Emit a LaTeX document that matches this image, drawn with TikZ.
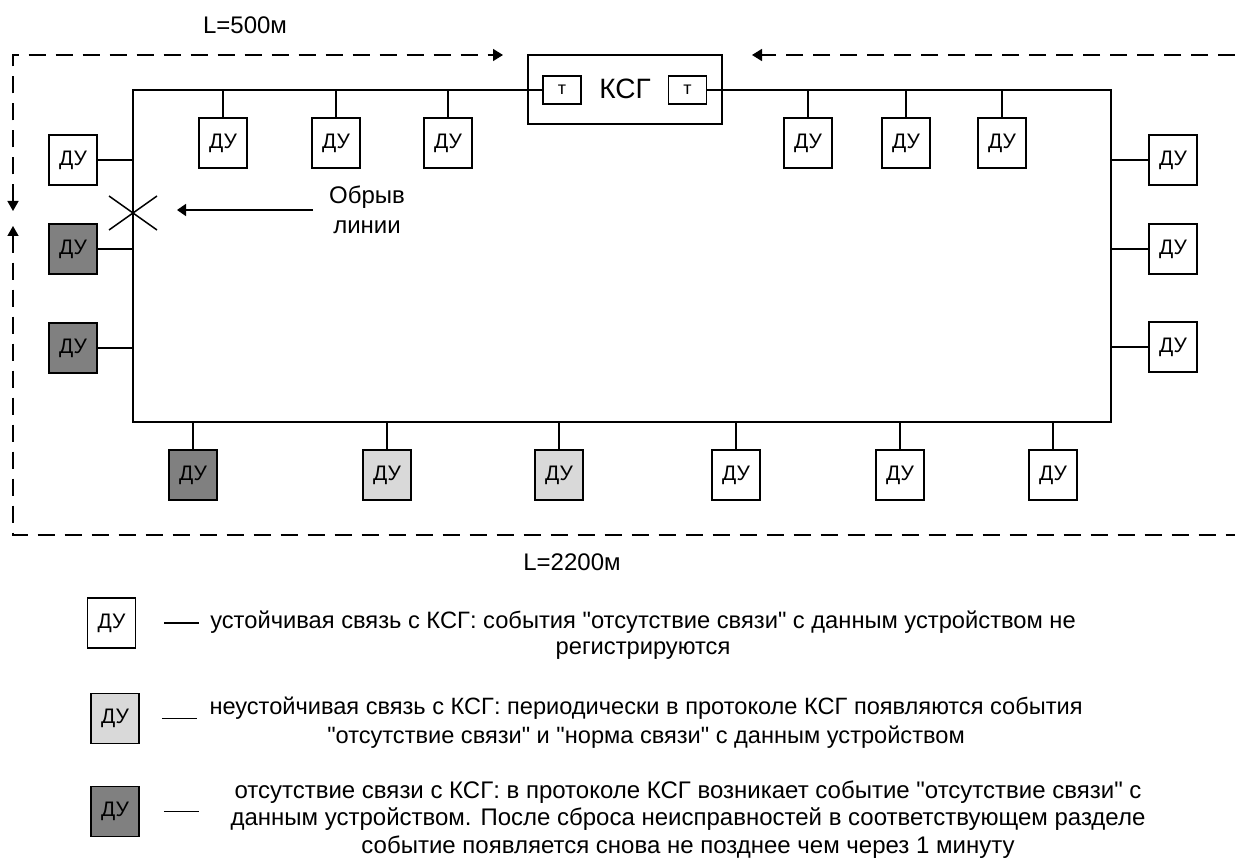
\documentclass[tikz,border=0pt]{standalone}
\usepackage{fontspec}
\setmainfont{Liberation Sans}[Ligatures=TeXOff]
\usetikzlibrary{arrows.meta}
\definecolor{darkfill}{gray}{0.5}
\definecolor{lightfill}{gray}{0.85}
\begin{document}
\begin{tikzpicture}[x=1pt,y=-1pt,line width=1.5pt,
  du/.style={draw,minimum width=48pt,minimum height=50pt,inner sep=0pt,font=\fontsize{21}{21}\selectfont},
  dk/.style={du,fill=darkfill},
  lt/.style={du,fill=lightfill},
  tbox/.style={draw,minimum width=38pt,minimum height=28pt,inner sep=0pt,font=\fontsize{18}{18}\selectfont},
  dashline/.style={dash pattern=on 17pt off 10pt},
  tip/.style={-{Triangle[length=10pt,width=12pt]}},
  lab/.style={font=\fontsize{24}{24}\selectfont},
  legtext/.style={align=center,font=\fontsize{24}{27.6}\selectfont,inner sep=0pt}]
\useasboundingbox (0,0) rectangle (1235,861);

% bus corners
\coordinate (tl) at (133,90);
\coordinate (bl) at (133,422);
\coordinate (br) at (1111,422);
\coordinate (tr) at (1111,90);

% KSG
\node[draw,minimum width=194pt,minimum height=69pt] (ksg) at (625,89.5) {};
\node[font=\fontsize{28}{28}\selectfont] (ksgl) at (625,89) {КСГ};
\node[tbox] (tL) at (562,90) {т};
\node[tbox] (tR) at (687.5,90) {т};

\draw (tL.west) -- (tl) -- (bl) -- (br) -- (tr) -- (tR.east);

% top devices
\foreach \n/\x in {t1/223,t2/336,t3/448,t4/808,t5/906,t6/1002}{
  \node[du] (\n) at (\x,143) {ДУ};
  \draw (\n.north) -- (\n.north |- tl);
}
% left devices
\node[du] (l1) at (73,160) {ДУ};
\node[dk] (l2) at (73,249) {ДУ};
\node[dk] (l3) at (73,348) {ДУ};
\foreach \n in {l1,l2,l3}{\draw (\n.east) -- (\n.east -| tl);}
% right devices
\foreach \n/\y in {r1/160,r2/249,r3/347}{
  \node[du] (\n) at (1173,\y) {ДУ};
  \draw (\n.west) -- (\n.west -| tr);
}
% bottom devices
\node[dk] (b1) at (193,475) {ДУ};
\node[lt] (b2) at (387,475) {ДУ};
\node[lt] (b3) at (559,475) {ДУ};
\node[du] (b4) at (736,475) {ДУ};
\node[du] (b5) at (900,475) {ДУ};
\node[du] (b6) at (1053,475) {ДУ};
\foreach \n in {b1,b2,b3,b4,b5,b6}{\draw (\n.north) -- (\n.north |- bl);}

% break mark
\coordinate (brk) at (133,213);
\draw (brk) ++(-24,-17) -- ++(48,34);
\draw (brk) ++(-24,17) -- ++(48,-34);

% break label
\node[align=center,font=\fontsize{24}{30}\selectfont] (obr) at (367,210) {Обрыв\\линии};
\coordinate (obrs) at (313,210);
\coordinate (obre) at (177,210);
\draw[-{Triangle[length=9pt,width=12pt]}] (obrs) -- (obre);

% dashed length paths
\coordinate (dTL) at (13,55);
\coordinate (dA1) at (503,55);
\coordinate (dA2) at (13,211);
\coordinate (dB1) at (13,226);
\coordinate (dBL) at (13,535);
\coordinate (dBR) at (1235,535);
\coordinate (dTR) at (1235,55);
\coordinate (dA3) at (752,55);
\draw[dashline,{Triangle[length=10pt,width=11pt]}-{Triangle[length=10pt,width=12pt]}] (dA2) -- (dTL) -- (dA1);
\draw[dashline,{Triangle[length=10pt,width=11pt]}-] (dB1) -- (dBL) -- (dBR);
\draw[dashline,tip] (dTR) -- (dA3);

\node[lab] (L1) at (245,25) {L=500м};
\node[lab] (L2) at (572,562) {L=2200м};

% legend
\node[du] (g1) at (111.5,623) {ДУ};
\node[lt] (g2) at (115,718.5) {ДУ};
\node[dk] (g3) at (115,811.5) {ДУ};
\draw ([xshift=28pt]g1.east) -- ++(35,0);
\draw ([xshift=22pt]g2.east) -- ++(35,0);
\draw ([xshift=24pt]g3.east) -- ++(35,0);

\node[legtext,font=\fontsize{23.7}{26.5}\selectfont] (x1) at (643,635) {устойчивая связь с КСГ: события "отсутствие связи" с данным устройством не\\регистрируются};
\node[legtext,font=\fontsize{23.6}{29}\selectfont] (x2) at (646,722.5) {неустойчивая связь с КСГ: периодически в протоколе КСГ появляются события\\"отсутствие связи" и "норма связи" с данным устройством};
\node[legtext] (x3) at (688,819.5) {отсутствие связи с КСГ: в протоколе КСГ возникает событие "отсутствие связи" с\\данным устройством. После сброса неисправностей в соответствующем разделе\\событие появляется снова не позднее чем через 1 минуту};
\end{tikzpicture}
\end{document}
